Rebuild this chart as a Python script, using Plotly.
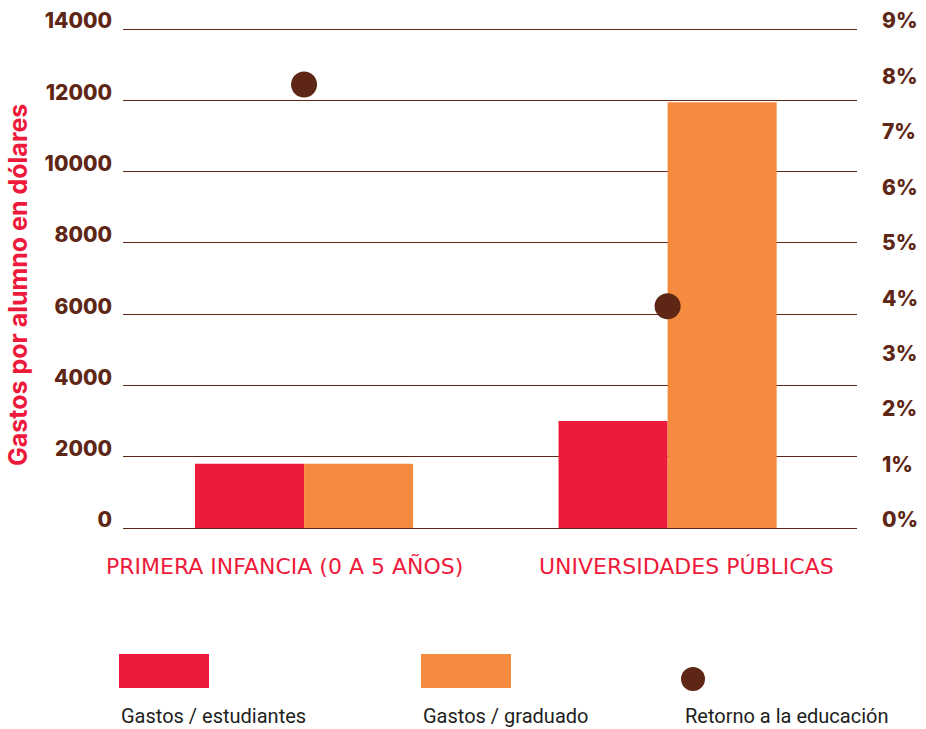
import plotly.graph_objects as go

# data
categories = ["PRIMERA INFANCIA (0 A 5 AÑOS)", "UNIVERSIDADES PÚBLICAS"]
gasto_estudiante = [1800, 3000]
gasto_graduado = [1800, 11950]
retorno_pct = [8.0, 4.0]
left_ticks = [0, 2000, 4000, 6000, 8000, 10000, 12000, 14000]
right_ticks = list(range(0, 10))
legend_labels = ["Gastos / estudiantes", "Gastos / graduado", "Retorno a la educación"]

RED = "#EE1A3B"
ORANGE = "#F58B3E"
BROWN = "#5E2614"
FONT = "Inter"

# plot area in pixels: x 123..857, y 28..528
L, R, T, B = 123, 857, 28, 528
W, H = 926, 729


def px_x(px):
    return (px - L) / (R - L)


def px_y(py):
    return (B - py) / (B - T)


xs = list(range(len(categories)))

fig = go.Figure()
fig.add_trace(go.Bar(x=xs, y=gasto_estudiante, name=legend_labels[0], marker_color=RED,
                     width=0.3, offset=-0.3, marker_line_width=0))
fig.add_trace(go.Bar(x=xs, y=gasto_graduado, name=legend_labels[1], marker_color=ORANGE,
                     width=0.3, offset=0, marker_line_width=0))
fig.add_trace(go.Scatter(x=xs, y=retorno_pct, name=legend_labels[2], mode="markers",
                         marker=dict(color=BROWN, size=26), yaxis="y2", cliponaxis=False))

fig.update_layout(
    width=W, height=H,
    margin=dict(l=L, r=W - R, t=T, b=H - B),
    plot_bgcolor="white", paper_bgcolor="white",
    barmode="overlay", showlegend=False,
    font=dict(family=FONT, color=BROWN),
    xaxis=dict(range=[-0.498, 1.521], showticklabels=False, showgrid=False,
               zeroline=False, showline=False, fixedrange=True, automargin=False),
    yaxis=dict(range=[0, 14030], tickvals=left_ticks, ticktext=[str(v) for v in left_ticks],
               showgrid=True, gridcolor=BROWN, gridwidth=1.3,
               zeroline=True, zerolinecolor=BROWN, zerolinewidth=1.3, showline=False,
               tickfont=dict(family=FONT, size=21, color=BROWN, weight=800),
               ticklabelstandoff=10, ticklabelshift=-8, automargin=False),
    yaxis2=dict(range=[0, 9 * 14030 / 14000], tickvals=right_ticks,
                ticktext=[f"{v}%" for v in right_ticks],
                overlaying="y", side="right", showgrid=False, zeroline=False, showline=False,
                tickfont=dict(family=FONT, size=21, color=BROWN, weight=800),
                ticklabelstandoff=24, ticklabelshift=-8, automargin=False),
)

# category labels (slightly off-centre in the reference)
for i, (cat, shift) in enumerate(zip(categories, [-20, 19])):
    fig.add_annotation(x=i, y=0, xref="x", yref="paper", text=cat, showarrow=False,
                       xanchor="center", yanchor="middle", xshift=shift, yshift=-38,
                       font=dict(family="DejaVu Sans", size=22, color=RED))

# y axis title
fig.add_annotation(x=0, y=px_y(285), xref="paper", yref="paper",
                   text="Gastos por alumno en dólares", textangle=-90, showarrow=False,
                   xanchor="center", yanchor="middle", xshift=18 - L,
                   font=dict(family=FONT, size=25, color=RED, weight=700))

# custom legend below the chart
fig.add_shape(type="rect", xref="paper", yref="paper", x0=px_x(119), x1=px_x(209),
              y0=px_y(688), y1=px_y(654), fillcolor=RED, line_width=0)
fig.add_shape(type="rect", xref="paper", yref="paper", x0=px_x(421), x1=px_x(511),
              y0=px_y(688), y1=px_y(654), fillcolor=ORANGE, line_width=0)
fig.add_shape(type="circle", xref="paper", yref="paper", xsizemode="pixel", ysizemode="pixel",
              xanchor=px_x(693), yanchor=px_y(679), x0=-12, x1=12, y0=-12, y1=12,
              fillcolor=BROWN, line_width=0)
for label, lx in zip(legend_labels, [119, 421, 683]):
    fig.add_annotation(x=px_x(lx), y=px_y(716), xref="paper", yref="paper", text=label,
                       showarrow=False, xanchor="left", yanchor="middle",
                       font=dict(family="Roboto", size=20, color="#1e1e1e"))

fig.write_html("out.html", config={"displayModeBar": False},
               post_script="document.body.style.margin='0';")
